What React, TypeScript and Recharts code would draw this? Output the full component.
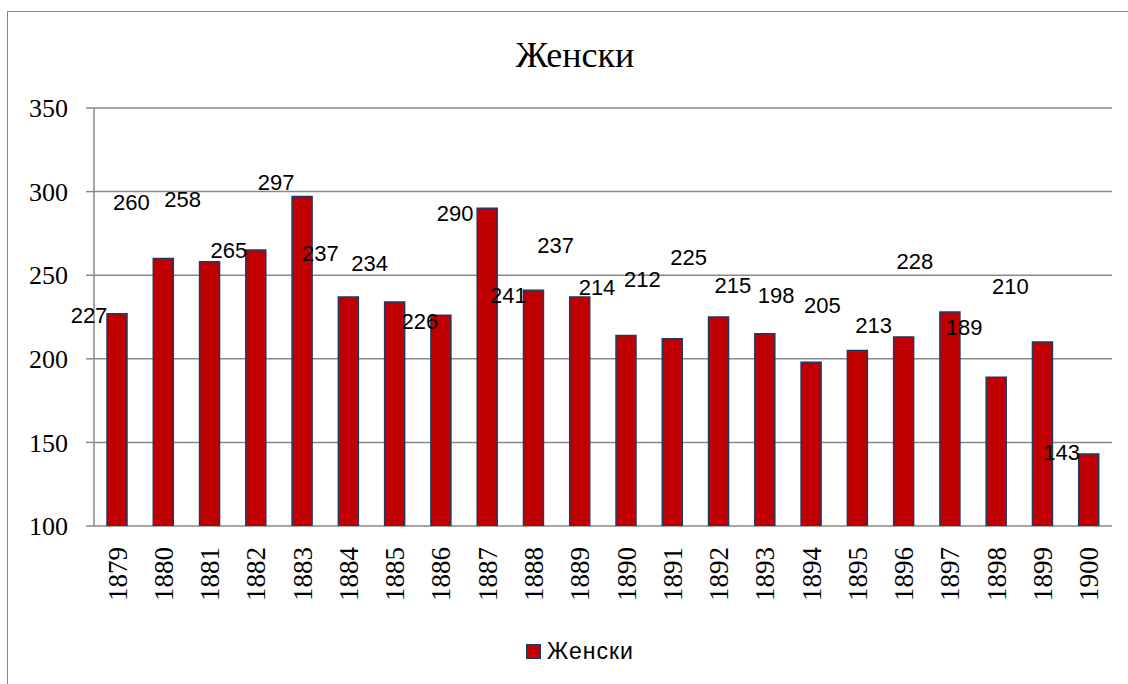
import {
  BarChart,
  Bar,
  XAxis,
  YAxis,
  CartesianGrid,
  Legend,
  LabelList,
} from "recharts";

const years = [
  "1879", "1880", "1881", "1882", "1883", "1884", "1885", "1886", "1887", "1888", "1889",
  "1890", "1891", "1892", "1893", "1894", "1895", "1896", "1897", "1898", "1899", "1900",
];
const zenski = [
  227, 260, 258, 265, 297, 237, 234, 226, 290, 241, 237,
  214, 212, 225, 215, 198, 205, 213, 228, 189, 210, 143,
];
const yTicks = [100, 150, 200, 250, 300, 350];
const edgeTicks = Array.from({ length: years.length + 1 }, (_, i) => i);

// label nudges (px) relative to bar top-centre, as placed in the original
const labelDx = [-28, -32, -27, -27, -26, -28, -25, -21, -32, -25, -24, -29, -30, -30, -32, -35, -35, -30, -35, -32, -32, -27];
const labelDy = [2, -56, -62, 0, -14, -43, -38, 6, 5, 5, -51, -48, -59, -60, -48, -67, -45, -12, -50, -50, -56, -2];

const data = years.map((y, i) => ({ year: y, value: zenski[i] }));

const GRID = "#898989";
const FILL = "#C00000";
const EDGE = "#1F3864";
const SERIF = "Liberation Serif, serif";
const SANS = "Liberation Sans, sans-serif";

const YearTick = (props: any) => {
  const { x, y, payload } = props;
  return (
    <text
      x={x}
      y={y}
      transform={`rotate(-90 ${x} ${y})`}
      textAnchor="end"
      dy="0.35em"
      style={{ fontFamily: SERIF, fontSize: 27, fill: "#000" }}
    >
      {payload.value}
    </text>
  );
};

const ValueTick = (props: any) => {
  const { x, y, payload } = props;
  return (
    <text
      x={x}
      y={y}
      textAnchor="end"
      dy="0.35em"
      style={{ fontFamily: SERIF, fontSize: 26, fill: "#000" }}
    >
      {payload.value}
    </text>
  );
};

const ValueLabel = (props: any) => {
  const { x, y, width, value, index } = props;
  return (
    <text
      x={x + width / 2 + labelDx[index]}
      y={y + labelDy[index]}
      textAnchor="middle"
      dominantBaseline="central"
      style={{ fontFamily: SANS, fontSize: 22, fill: "#000" }}
    >
      {value}
    </text>
  );
};

const LegendBox = () => (
  <div
    style={{
      display: "flex",
      justifyContent: "center",
      alignItems: "center",
      height: 30,
      paddingLeft: 32,
      fontFamily: SANS,
      fontSize: 23,
      letterSpacing: 1,
      color: "#000",
    }}
  >
    <span
      style={{
        display: "inline-block",
        width: 13,
        height: 13,
        background: FILL,
        border: `1.5px solid ${EDGE}`,
        marginRight: 6,
      }}
    />
    <span>Женски</span>
  </div>
);

export default function App() {
  return (
    <div style={{ position: "relative", width: 1128, height: 684, overflow: "hidden", background: "#fff" }}>
      <style>{"html,body{margin:0;overflow:hidden}"}</style>
      <div
        style={{
          position: "absolute",
          left: 7,
          top: 11,
          width: 1200,
          height: 800,
          borderLeft: `1.5px solid ${GRID}`,
          borderTop: `1.5px solid ${GRID}`,
        }}
      />
      <div
        style={{
          position: "absolute",
          left: 375,
          top: 37,
          width: 400,
          textAlign: "center",
          fontFamily: SERIF,
          fontSize: 36,
          lineHeight: "36px",
          color: "#000",
        }}
      >
        Женски
      </div>
      <div style={{ position: "absolute", left: 0, top: 0 }}>
        <BarChart
          width={1128}
          height={684}
          data={data}
          margin={{ top: 108, right: 16, left: 0, bottom: 38 }}
          barSize={20}
        >
          <CartesianGrid horizontal vertical={false} stroke={GRID} strokeWidth={1.5} />
          <XAxis
            xAxisId="edge"
            type="number"
            domain={[0, years.length]}
            ticks={edgeTicks}
            allowDataOverflow
            tick={false}
            tickSize={10}
            height={0}
            axisLine={{ stroke: GRID, strokeWidth: 1.5 }}
            tickLine={{ stroke: GRID, strokeWidth: 1.5 }}
          />
          <XAxis
            dataKey="year"
            interval={0}
            axisLine={false}
            tickLine={false}
            tickSize={0}
            tickMargin={21}
            height={90}
            tick={<YearTick />}
          />
          <YAxis
            domain={[100, 350]}
            ticks={yTicks}
            allowDataOverflow
            width={94}
            tickSize={8}
            tickMargin={18}
            axisLine={{ stroke: GRID, strokeWidth: 1.5 }}
            tickLine={{ stroke: GRID, strokeWidth: 1.5 }}
            tick={<ValueTick />}
          />
          <Legend
            verticalAlign="bottom"
            content={<LegendBox />}
            wrapperStyle={{ top: 636, bottom: "auto", left: 0, width: 1128 }}
          />
          <Bar dataKey="value" name="Женски" fill={FILL} stroke={EDGE} strokeWidth={1.5} isAnimationActive={false}>
            <LabelList dataKey="value" content={<ValueLabel />} />
          </Bar>
        </BarChart>
      </div>
    </div>
  );
}
